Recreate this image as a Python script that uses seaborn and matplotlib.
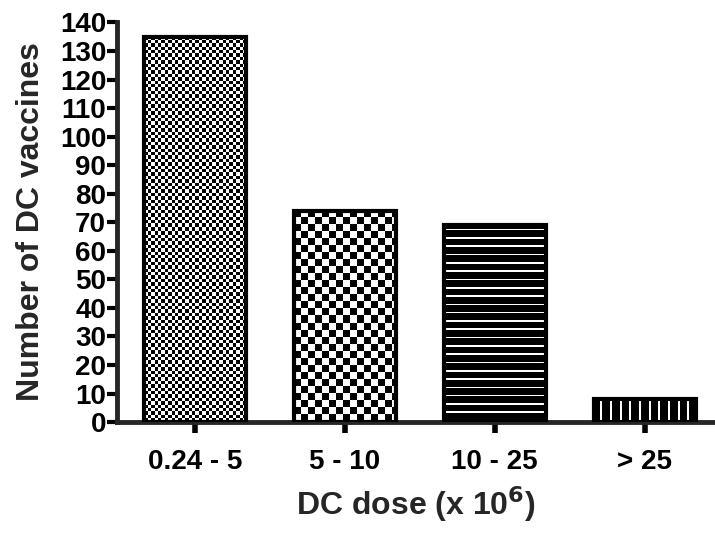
import numpy as np
import matplotlib
matplotlib.use("Agg")
import matplotlib.pyplot as plt
import seaborn as sns

categories = ["0.24 - 5", "5 - 10", "10 - 25", "> 25"]
values = [135, 74, 69, 8]
yticks = list(range(0, 141, 10))

sns.set_style("ticks")
plt.rcParams['font.family'] = ['Liberation Sans', 'DejaVu Sans']
plt.rcParams['font.weight'] = 'bold'

fig = plt.figure(figsize=(7.15, 5.33), dpi=100)
ax = fig.add_axes([0.164, 0.208, 0.836, 0.753])

sns.barplot(x=categories, y=values, width=0.68, color="white",
            edgecolor="black", linewidth=3, saturation=1, ax=ax)

ax.set_xlim(-0.52, 3.47)
ax.set_ylim(0, 140.6)
ax.set_yticks(yticks)
ax.set_yticklabels([str(t) for t in yticks], fontsize=20, fontweight='bold')
ax.set_xticks(range(len(categories)))
ax.set_xticklabels(categories, fontsize=20, fontweight='bold')
ax.tick_params(axis='y', length=7, width=3, pad=1, colors='black')
ax.tick_params(axis='x', length=8, width=4, pad=11, colors='black')
for s in ['top', 'right']:
    ax.spines[s].set_visible(False)
ax.spines['left'].set_linewidth(3.5)
ax.spines['bottom'].set_linewidth(3.5)
ax.spines['left'].set_bounds(0, 140)
ax.set_ylabel("Number of DC vaccines", fontsize=23, fontweight='bold')
ax.yaxis.set_label_coords(-0.12, 0.5)
ax.set_xlabel("DC dose (x 10$^\\mathbf{6}$)", fontsize=23, fontweight='bold', labelpad=7)

fig.canvas.draw()

def pattern(kind, ny, nx):
    # returns gray values: 1 = white, 0 = black
    yy, xx = np.indices((ny, nx))
    if kind == 'fine':
        c = 3.4
        return ((np.floor(yy / c) + np.floor(xx / c)) % 2).astype(float)
    if kind == 'coarse':
        c = 7
        return ((np.floor(yy / c) + np.floor(xx / c)) % 2).astype(float)
    if kind == 'hlines':
        return (((yy + 5) % 8.3) < 1.6).astype(float)
    if kind == 'vlines':
        return (((xx + 4) % 9.7) < 2.0).astype(float)
    return np.zeros((ny, nx))

kinds = ['fine', 'coarse', 'hlines', 'vlines']
for patch, kind in zip(ax.patches, kinds):
    x0, y0 = patch.get_x(), patch.get_y()
    w, h = patch.get_width(), patch.get_height()
    p0 = ax.transData.transform((x0, y0))
    p1 = ax.transData.transform((x0 + w, y0 + h))
    nx = max(1, int(round(abs(p1[0] - p0[0]))))
    ny = max(1, int(round(abs(p1[1] - p0[1]))))
    img = pattern(kind, ny, nx)
    ax.imshow(img, cmap='gray', vmin=0, vmax=1, extent=(x0, x0 + w, y0, y0 + h),
              origin='upper', aspect='auto', interpolation='nearest', zorder=2)
    patch.set_facecolor('none')
    patch.set_zorder(3)

ax.set_xlim(-0.52, 3.47)
ax.set_ylim(0, 140.6)

fig.savefig("out.png", dpi=100)
